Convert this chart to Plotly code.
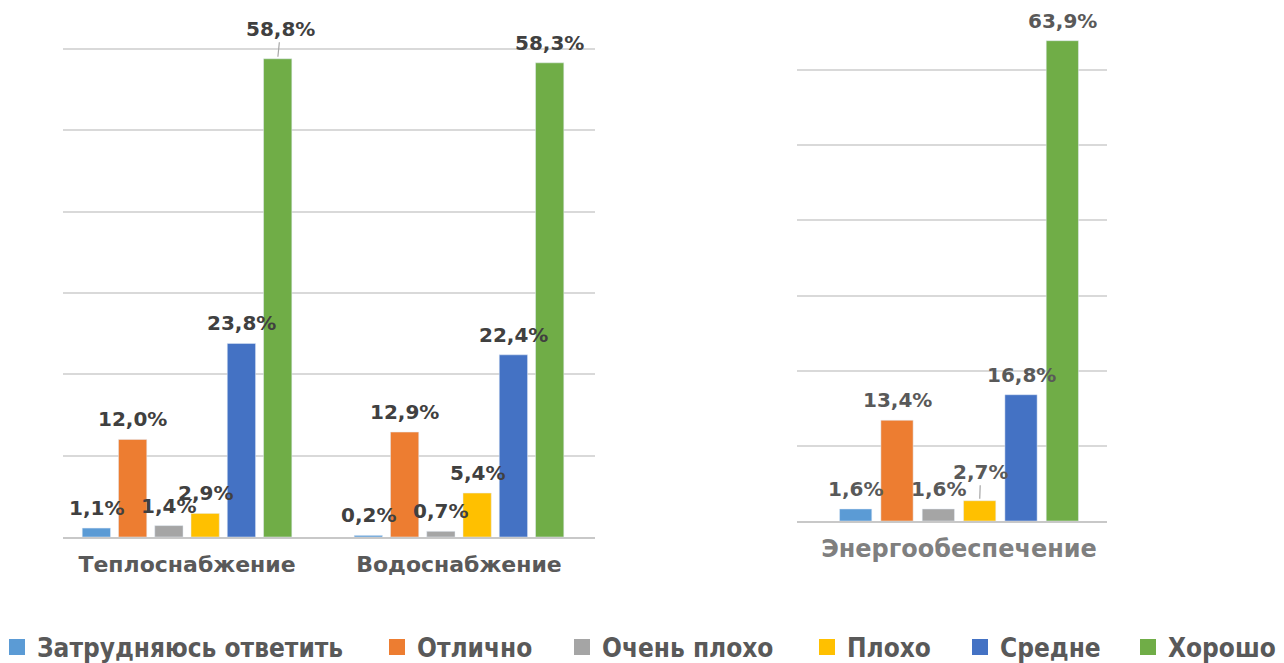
import plotly.graph_objects as go

# ---- data ----
series_names = ["Затрудняюсь ответить", "Отлично", "Очень плохо", "Плохо", "Средне", "Хорошо"]
series_colors = ["#5B9BD5", "#ED7D31", "#A5A5A5", "#FFC000", "#4472C4", "#70AD47"]

left_categories = ["Теплоснабжение", "Водоснабжение"]
right_categories = ["Энергообеспечение"]

teplo = [1.1, 12.0, 1.4, 2.9, 23.8, 58.8]
vodo = [0.2, 12.9, 0.7, 5.4, 22.4, 58.3]
energo = [1.6, 13.4, 1.6, 2.7, 16.8, 63.9]


def fmt(v):
    return f"{v:.1f}".replace(".", ",") + "%"


# the page body has an 8px margin, so the figure is shifted by 8px
PAGE_W, PAGE_H, OFF = 1284, 663, 8
W, H = PAGE_W - OFF, PAGE_H - OFF
BARGAP, GROUPGAP = 0.2, 0.22
n_series = len(series_names)
slot = (1 - BARGAP) / n_series

left_font = dict(family="DejaVu Sans", size=20, color="#404040", weight="bold")
right_font = dict(family="DejaVu Sans", size=20, color="#595959", weight="bold")

# label placement (leader lines for two labels)
leader = {("x", 0, 5): (3, -30), ("x2", 0, 3): (1, -29)}

fig = go.Figure()
annotations = []
panels = [
    ("x", "y", left_categories, [teplo, vodo], left_font),
    ("x2", "y2", right_categories, [energo], right_font),
]
for i, name in enumerate(series_names):
    for xa, ya, cats, groups, tfont in panels:
        vals = [g[i] for g in groups]
        fig.add_trace(go.Bar(
            x=cats, y=vals, name=name, marker_color=series_colors[i],
            xaxis=xa, yaxis=ya, legendgroup=name, showlegend=False,
            hovertemplate="%{x}: %{y}%<extra>" + name + "</extra>",
        ))
        for ci, v in enumerate(vals):
            xpos = ci + (i - (n_series - 1) / 2) * slot
            key = (xa, ci, i)
            if key in leader:
                axp, ayp = leader[key]
                annotations.append(dict(
                    x=xpos, y=v, xref=xa, yref=ya, text=fmt(v), font=tfont,
                    showarrow=True, arrowhead=0, arrowwidth=1.2, arrowcolor="#A6A6A6",
                    ax=axp, ay=ayp, standoff=2,
                ))
            else:
                annotations.append(dict(
                    x=xpos, y=v, xref=xa, yref=ya, text=fmt(v), font=tfont,
                    showarrow=False, yanchor="middle", yshift=20,
                ))
    # legend proxy (square marker)
    fig.add_trace(go.Scatter(
        x=[None], y=[None], mode="markers", name=name,
        marker=dict(symbol="square", size=16, color=series_colors[i]),
        legendgroup=name, showlegend=True,
        legend="legend" if i == 0 else f"legend{i + 1}",
        xaxis="x", yaxis="y",
    ))


def px_x(a, b):
    return [(a - OFF) / W, (b - OFF) / W]


def px_y(top, bottom):
    return [1 - (bottom - OFF) / H, 1 - (top - OFF) / H]


left_base, left_unit = 537, (537 - 49) / 60.0
left_top = left_base - 61 * left_unit
right_base, right_unit = 521, (521 - 70) / 60.0
right_top = right_base - 66 * right_unit

grid = "#D9D9D9"
legend_text_x = [37, 417, 602, 847, 1000, 1168]
legend_font = dict(family="Liberation Sans Narrow, DejaVu Sans Condensed, sans-serif",
                   size=26, color="#595959", weight="bold")
legends = {}
for i, tx in enumerate(legend_text_x):
    key = "legend" if i == 0 else f"legend{i + 1}"
    legends[key] = dict(orientation="h", x=(tx - 40 - OFF) / W, xanchor="left",
                        y=1 - (647 - OFF) / H, yanchor="middle", font=legend_font,
                        itemsizing="trace", bgcolor="rgba(0,0,0,0)", borderwidth=0)

fig.update_layout(
    width=W, height=H,
    margin=dict(l=0, r=0, t=0, b=0, autoexpand=False),
    paper_bgcolor="white", plot_bgcolor="white",
    barmode="group", bargap=BARGAP, bargroupgap=GROUPGAP,
    annotations=annotations,
    xaxis=dict(domain=px_x(63, 595), range=[-0.456, 1.5], showline=True, linecolor="#C8C8C8",
               linewidth=1.5, showgrid=False, ticks="outside", ticklen=7, tickcolor="white",
               anchor="y", fixedrange=True,
               tickfont=dict(family="DejaVu Sans", size=22, color="#595959", weight="bold")),
    yaxis=dict(domain=px_y(left_top, left_base), range=[0, 61], dtick=10, showgrid=True,
               gridcolor=grid, gridwidth=1.5, showticklabels=False, zeroline=False,
               anchor="x", fixedrange=True),
    xaxis2=dict(domain=px_x(797, 1107), range=[-0.5226, 0.4774], showline=True, linecolor="#C8C8C8",
                linewidth=1.5, showgrid=False, ticks="outside", ticklen=5, tickcolor="white",
                anchor="y2", fixedrange=True,
                tickfont=dict(family="DejaVu Sans", size=24, color="#7F7F7F", weight="bold")),
    yaxis2=dict(domain=px_y(right_top, right_base), range=[0, 66], dtick=10, showgrid=True,
                gridcolor=grid, gridwidth=1.5, showticklabels=False, zeroline=False,
                anchor="x2", fixedrange=True),
    **legends,
)

fig.write_html("out.html")
